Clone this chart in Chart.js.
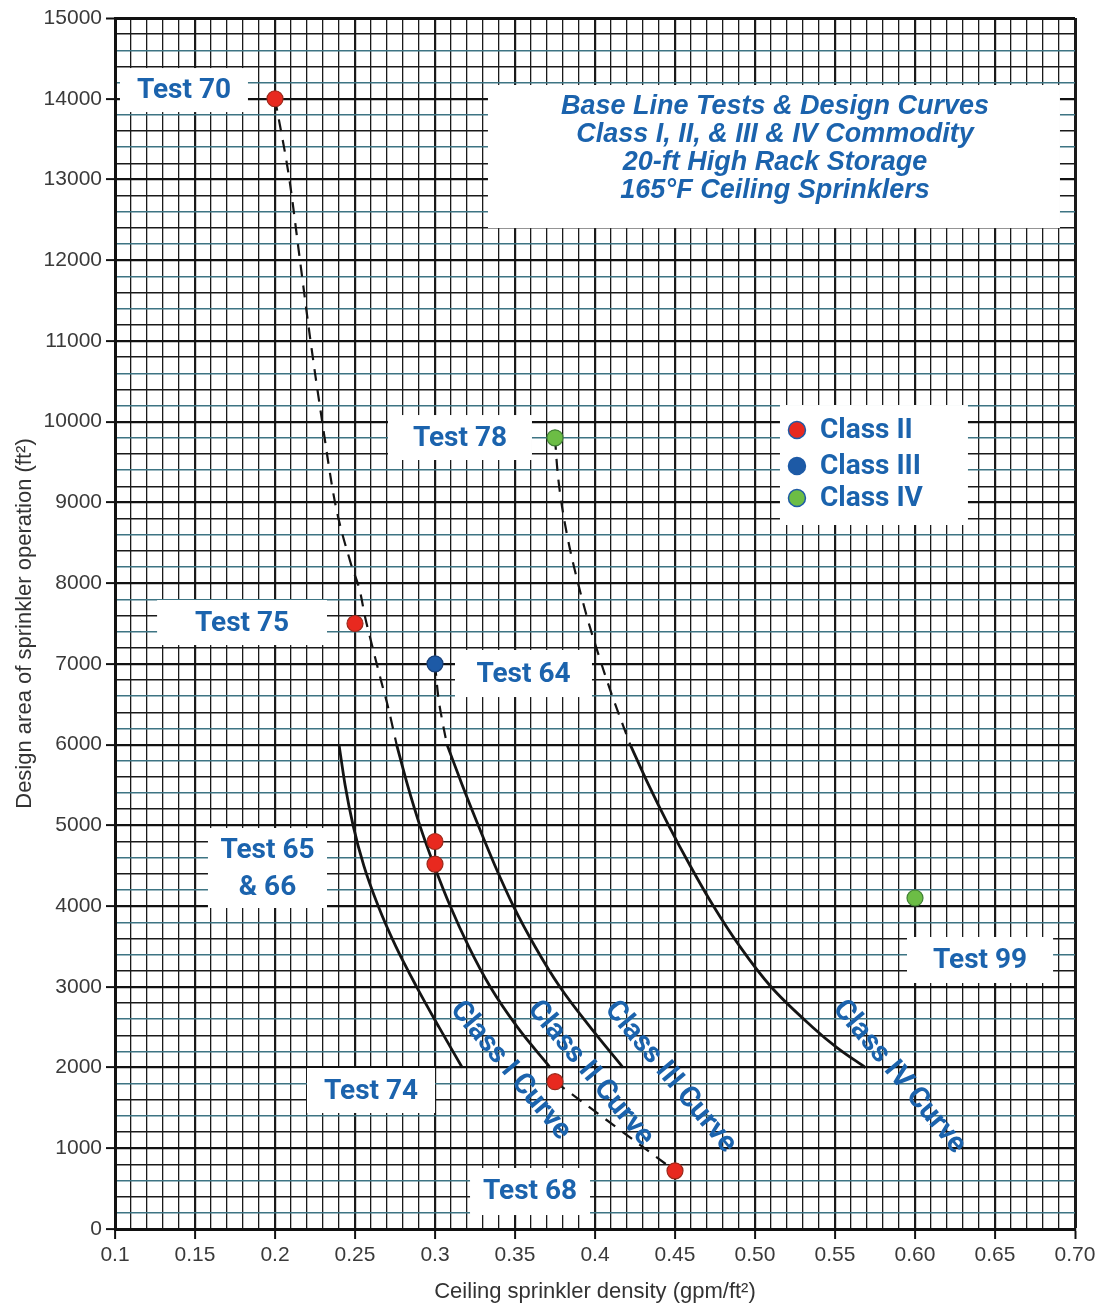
<!DOCTYPE html>
<html>
<head>
<meta charset="utf-8">
<script src="https://cdn.jsdelivr.net/npm/chart.js@4.4.1/dist/chart.umd.min.js"></script>
<style>
  body { margin: 0; background: #fff; }
  #wrap { width: 1104px; height: 1306px; }
</style>
</head>
<body>
<div id="wrap"><canvas id="chart" width="1104" height="1306"></canvas></div>
<script>
// tick labels
const xTickValues = [0.1, 0.15, 0.2, 0.25, 0.3, 0.35, 0.4, 0.45, 0.5, 0.55, 0.6, 0.65, 0.7];
const xTickLabels = ['0.1', '0.15', '0.2', '0.25', '0.3', '0.35', '0.4', '0.45', '0.50', '0.55', '0.60', '0.65', '0.70'];
const yTickValues = [0, 1000, 2000, 3000, 4000, 5000, 6000, 7000, 8000, 9000, 10000, 11000, 12000, 13000, 14000, 15000];
const yTickLabels = yTickValues.map(String);

// test points (density gpm/ft2, area ft2)
const class2X = [0.2, 0.25, 0.3, 0.3, 0.375, 0.45];
const class2Y = [14000, 7500, 4800, 4520, 1825, 720];
const class3X = [0.3];
const class3Y = [7000];
const class4X = [0.375, 0.6];
const class4Y = [9800, 4100];

// design curves (solid)
const curve1X = [0.24, 0.2438, 0.2488, 0.2555, 0.2645, 0.2755, 0.2885, 0.3025, 0.317];
const curve1Y = [6000, 5500, 5000, 4500, 4000, 3500, 3000, 2500, 2000];
const curve2X = [0.276, 0.2828, 0.2905, 0.2995, 0.3095, 0.321, 0.3345, 0.3515, 0.372];
const curve2Y = [6000, 5500, 5000, 4500, 4000, 3500, 3000, 2500, 2000];
const curve3X = [0.3075, 0.317, 0.327, 0.3375, 0.349, 0.3625, 0.378, 0.397, 0.4175];
const curve3Y = [6000, 5500, 5000, 4500, 4000, 3500, 3000, 2500, 2000];
const curve4X = [0.422, 0.4335, 0.446, 0.4595, 0.474, 0.4905, 0.51, 0.536, 0.551, 0.569];
const curve4Y = [6000, 5500, 5000, 4500, 4000, 3500, 3000, 2500, 2250, 2000];

// extrapolated curves (dashed)
const dash70X = [0.2, 0.209, 0.2156, 0.2222, 0.2295, 0.2375, 0.2473, 0.2531, 0.2563, 0.2604, 0.2667, 0.2706, 0.276];
const dash70Y = [14000, 13000, 12000, 11000, 10000, 9000, 8250, 7900, 7580, 7250, 6760, 6470, 6000];
const dash64X = [0.3, 0.302, 0.3045, 0.3075];
const dash64Y = [7000, 6600, 6300, 6000];
const dash78X = [0.375, 0.3765, 0.379, 0.3825, 0.3863, 0.395, 0.4013, 0.4094, 0.422];
const dash78Y = [9800, 9400, 9000, 8600, 8250, 7580, 7170, 6680, 6000];
const dash68X = [0.375, 0.45];
const dash68Y = [1825, 720];

const zip = (xs, ys) => xs.map((x, i) => ({ x: x, y: ys[i] }));

const BLUE_TEXT = '#1b63ad';
const RED = '#e8291f', BLUE = '#1d5aa6', GREEN = '#6cbd45';

// label boxes in data units
const testLabels = [
  { lines: ['Test 70'], x1: 0.1031, x2: 0.1831, y1: 13835, y2: 14380 },
  { lines: ['Test 75'], x1: 0.1263, x2: 0.2325, y1: 7233, y2: 7791 },
  { lines: ['Test 64'], x1: 0.3125, x2: 0.3981, y1: 6589, y2: 7172 },
  { lines: ['Test 65', '& 66'], x1: 0.1581, x2: 0.2325, y1: 3976, y2: 4967 },
  { lines: ['Test 78'], x1: 0.2706, x2: 0.3606, y1: 9525, y2: 10082 },
  { lines: ['Test 74'], x1: 0.22, x2: 0.30, y1: 1437, y2: 1994 },
  { lines: ['Test 68'], x1: 0.3219, x2: 0.3969, y1: 173, y2: 756 },
  { lines: ['Test 99'], x1: 0.595, x2: 0.6863, y1: 3047, y2: 3617 }
];
const titleLines = ['Base Line Tests & Design Curves', 'Class I, II, & III & IV Commodity', '20-ft High Rack Storage', '165\u00B0F Ceiling Sprinklers'];
const titleBox = { x1: 0.3331, x2: 0.6906, y1: 12398, y2: 14170, cx: 0.5125, cy: 13389 };
const curveLabels = [
  { text: 'Class I Curve', x: 0.347, y: 1960 },
  { text: 'Class II Curve', x: 0.397, y: 1925 },
  { text: 'Class III Curve', x: 0.447, y: 1880 },
  { text: 'Class IV Curve', x: 0.590, y: 1880 }
];
const legendItems = ['Class II', 'Class III', 'Class IV'];
const legendBox = { x1: 0.5156, x2: 0.6331, y1: 8720, y2: 10206 };

const near = (a, b) => Math.abs(a - b) < 1e-6;

const annotate = {
  id: 'annotate',
  beforeDatasetsDraw(chart) {
    const { ctx, scales: { x, y } } = chart;
    ctx.save();
    ctx.fillStyle = '#fff';
    const boxes = testLabels.concat([titleBox, legendBox]);
    boxes.forEach(b => {
      const px1 = x.getPixelForValue(b.x1), px2 = x.getPixelForValue(b.x2);
      const py1 = y.getPixelForValue(b.y2), py2 = y.getPixelForValue(b.y1);
      ctx.fillRect(px1, py1, px2 - px1, py2 - py1);
    });
    ctx.restore();
  },
  afterDatasetsDraw(chart) {
    const { ctx, scales: { x, y } } = chart;
    ctx.save();
    ctx.fillStyle = BLUE_TEXT;
    ctx.textAlign = 'center';
    ctx.textBaseline = 'middle';

    ctx.font = 'bold 28px Roboto';
    testLabels.forEach(b => {
      const cx = (x.getPixelForValue(b.x1) + x.getPixelForValue(b.x2)) / 2;
      const cy = (y.getPixelForValue(b.y1) + y.getPixelForValue(b.y2)) / 2;
      const lh = 37;
      b.lines.forEach((t, i) => {
        ctx.fillText(t, cx, cy + (i - (b.lines.length - 1) / 2) * lh + 1);
      });
    });

    ctx.font = 'italic bold 27px "Liberation Sans"';
    const tx = x.getPixelForValue(titleBox.cx), ty = y.getPixelForValue(titleBox.cy);
    titleLines.forEach((t, i) => {
      ctx.fillText(t, tx, ty + (i - 1.5) * 28);
    });

    ctx.font = 'bold 29px Roboto';
    curveLabels.forEach(c => {
      ctx.save();
      ctx.translate(x.getPixelForValue(c.x), y.getPixelForValue(c.y));
      ctx.rotate(50 * Math.PI / 180);
      ctx.fillText(c.text, 0, 0);
      ctx.restore();
    });

    // legend
    const lx = x.getPixelForValue(legendBox.x1), ly = y.getPixelForValue(legendBox.y2);
    const fills = [RED, BLUE, GREEN];
    const rows = [25, 61, 93];
    ctx.font = 'bold 28px Roboto';
    ctx.textAlign = 'left';
    rows.forEach((dy, i) => {
      ctx.beginPath();
      ctx.arc(lx + 17, ly + dy, 8.5, 0, Math.PI * 2);
      ctx.fillStyle = fills[i];
      ctx.fill();
      ctx.lineWidth = 1.5;
      ctx.strokeStyle = BLUE;
      ctx.stroke();
      ctx.fillStyle = BLUE_TEXT;
      ctx.fillText(legendItems[i], lx + 40, ly + dy + 1);
    });
    ctx.restore();
  }
};

const pointSet = (xs, ys, fill, border) => ({
  type: 'scatter', data: zip(xs, ys), showLine: false,
  pointRadius: 8, pointHoverRadius: 8, pointBackgroundColor: fill,
  pointBorderColor: border, pointBorderWidth: 1.2
});
const lineSet = (xs, ys, dashed) => ({
  type: 'scatter', data: zip(xs, ys), showLine: true, pointRadius: 0,
  borderColor: '#141414', borderWidth: dashed ? 2.2 : 2.8,
  borderDash: dashed ? [12, 9] : [], cubicInterpolationMode: 'monotone', fill: false
});

new Chart(document.getElementById('chart'), {
  type: 'scatter',
  data: {
    datasets: [
      pointSet(class2X, class2Y, RED, '#9a2a1c'),
      pointSet(class3X, class3Y, BLUE, '#173f78'),
      pointSet(class4X, class4Y, GREEN, '#3f7f34'),
      lineSet(curve1X, curve1Y, false),
      lineSet(curve2X, curve2Y, false),
      lineSet(curve3X, curve3Y, false),
      lineSet(curve4X, curve4Y, false),
      lineSet(dash70X, dash70Y, true),
      lineSet(dash64X, dash64Y, true),
      lineSet(dash78X, dash78Y, true),
      lineSet(dash68X, dash68Y, true)
    ]
  },
  options: {
    responsive: false,
    animation: false,
    layout: { padding: { left: 0, right: 29, top: 18, bottom: 0 } },
    plugins: { legend: { display: false }, tooltip: { enabled: false } },
    scales: {
      x: {
        type: 'linear', min: 0.1, max: 0.7,
        afterFit: s => { s.height = 77; },
        border: { display: true, width: 3, color: '#111' },
        grid: {
          color: '#1a1a1a',
          lineWidth: c => {
            const v = c.tick.value;
            if (near(v, 0.7)) return 3;
            return xTickValues.some(t => near(t, v)) ? 2.2 : 1.3;
          },
          drawTicks: true, tickLength: 10, tickWidth: 2,
          tickColor: c => xTickValues.some(t => near(t, c.tick.value)) ? '#111' : 'rgba(0,0,0,0)'
        },
        ticks: {
          stepSize: 0.01, autoSkip: false, maxRotation: 0, padding: 4,
          color: '#3a3a3a', font: { family: 'Liberation Sans', size: 21 },
          callback: v => { const i = xTickValues.findIndex(t => near(t, v)); return i >= 0 ? xTickLabels[i] : ''; }
        },
        title: {
          display: true, text: 'Ceiling sprinkler density (gpm/ft\u00B2)',
          color: '#333', font: { family: 'Liberation Sans', size: 22 }, padding: { top: 0, bottom: 1 }
        }
      },
      y: {
        type: 'linear', min: 0, max: 15000,
        afterFit: s => { s.width = 115; },
        border: { display: true, width: 3, color: '#111' },
        grid: {
          color: c => {
            const v = c.tick.value;
            if (v % 1000 === 0) return '#111';
            return v % 400 === 200 ? '#3d7483' : '#1a1a1a';
          },
          lineWidth: c => {
            const v = c.tick.value;
            if (v === 15000) return 3;
            return v % 1000 === 0 ? 2.2 : 1.4;
          },
          drawTicks: true, tickLength: 9, tickWidth: 2,
          tickColor: c => c.tick.value % 1000 === 0 ? '#111' : 'rgba(0,0,0,0)'
        },
        ticks: {
          stepSize: 200, autoSkip: false, padding: 4,
          color: '#3a3a3a', font: { family: 'Liberation Sans', size: 21 },
          callback: v => { const i = yTickValues.indexOf(v); return i >= 0 ? yTickLabels[i] : ''; }
        },
        title: {
          display: true, text: 'Design area of sprinkler operation (ft\u00B2)',
          color: '#333', font: { family: 'Liberation Sans', size: 22 }, padding: { top: 12, bottom: 0 }
        }
      }
    }
  },
  plugins: [annotate]
});
</script>
</body>
</html>
